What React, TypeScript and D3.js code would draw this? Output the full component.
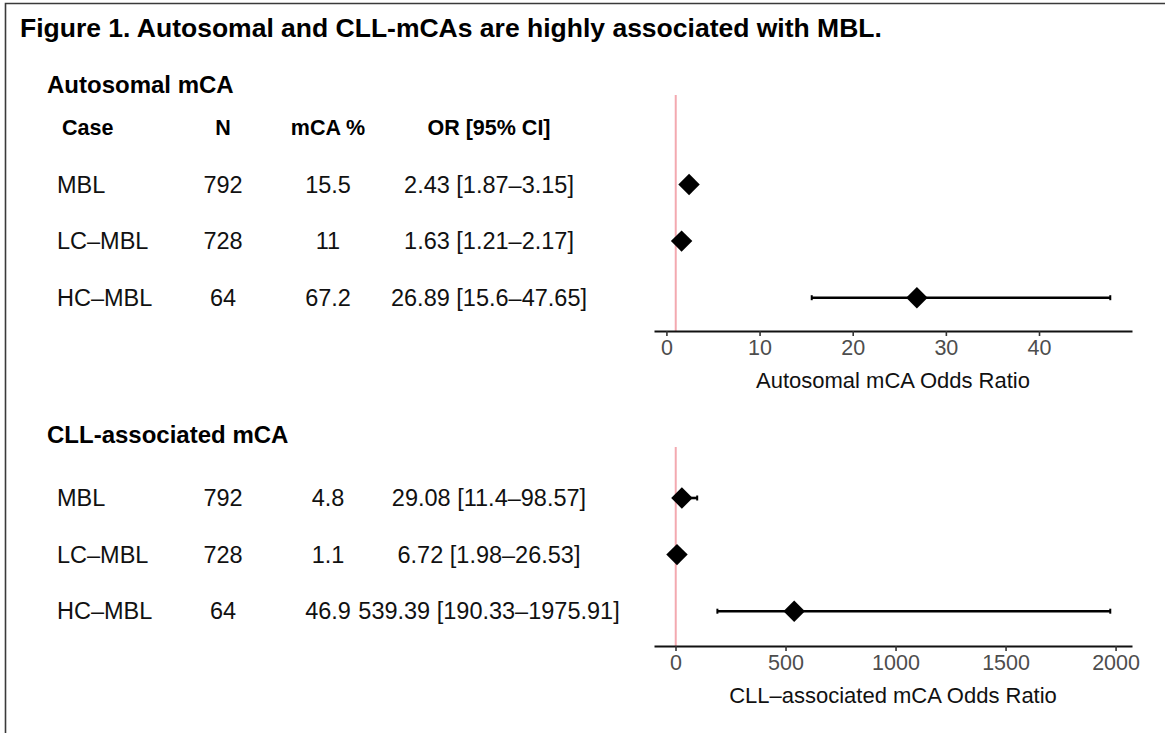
import React, { useRef, useEffect } from "react";
import * as d3 from "d3";

// table / forest data
const cases = ["MBL", "LC\u2013MBL", "HC\u2013MBL"];

const autoN = [792, 728, 64];
const autoPct = ["15.5", "11", "67.2"];
const autoOR = [2.43, 1.63, 26.89];
const autoLo = [1.87, 1.21, 15.6];
const autoHi = [3.15, 2.17, 47.65];
const autoTicks = [0, 10, 20, 30, 40];

const cllN = [792, 728, 64];
const cllPct = ["4.8", "1.1", "46.9"];
const cllOR = [29.08, 6.72, 539.39];
const cllLo = [11.4, 1.98, 190.33];
const cllHi = [98.57, 26.53, 1975.91];
const cllTicks = [0, 500, 1000, 1500, 2000];

const headers = ["Case", "N", "mCA %", "OR [95% CI]"];

const FONT = "'Liberation Sans', Arial, Helvetica, sans-serif";

export default function App() {
	const ref = useRef<SVGSVGElement>(null);

	const layout = {
		width: 1165,
		height: 733,
		plotLeft: 654,
		plotRight: 1132,
		colCase: 57,
		colN: 223,
		colPct: 328,
		colOR: 489,
		rowStep: 56.6
	};

	const panels = [
		{
			title: "Autosomal mCA",
			titleY: 85,
			header: true,
			firstRow: 184.5,
			refTop: 95,
			axisY: 331,
			n: autoN, pct: autoPct, or: autoOR, lo: autoLo, hi: autoHi,
			ticks: autoTicks,
			axisTitle: "Autosomal mCA Odds Ratio"
		},
		{
			title: "CLL-associated mCA",
			titleY: 435,
			header: false,
			firstRow: 498,
			refTop: 447,
			axisY: 646,
			n: cllN, pct: cllPct, or: cllOR, lo: cllLo, hi: cllHi,
			ticks: cllTicks,
			axisTitle: "CLL\u2013associated mCA Odds Ratio"
		}
	];

	useEffect(() => {
		const svg = d3.select(ref.current);
		svg.selectAll("*").remove();

		svg.append("rect")
			.attr("width", layout.width)
			.attr("height", layout.height)
			.attr("fill", "white");

		// frame (only top and left edges show in the crop)
		svg.append("path")
			.attr("d", `M5.5,${layout.height} V3.5 H${layout.width}`)
			.attr("fill", "none")
			.attr("stroke", "#3a3a3a")
			.attr("stroke-width", 1.6);

		svg.append("text")
			.attr("x", 20)
			.attr("y", 37)
			.attr("font-family", FONT)
			.attr("font-weight", "bold")
			.attr("font-size", 26.5)
			.text("Figure 1. Autosomal and CLL-mCAs are highly associated with MBL.");

		panels.forEach(p => {
			const g = svg.append("g");

			g.append("text")
				.attr("x", 47)
				.attr("y", p.titleY)
				.attr("dy", "0.35em")
				.attr("font-family", FONT)
				.attr("font-weight", "bold")
				.attr("font-size", 24)
				.text(p.title);

			const rowY = (i: number) => p.firstRow + i * layout.rowStep;
			const cols = [layout.colCase, layout.colN, layout.colPct, layout.colOR];
			const anchors = ["start", "middle", "middle", "middle"];

			if (p.header) {
				headers.forEach((h, j) => {
					g.append("text")
						.attr("x", cols[j] + (j === 0 ? 5 : 0))
						.attr("y", rowY(-1))
						.attr("dy", "0.35em")
						.attr("text-anchor", anchors[j])
						.attr("font-family", FONT)
						.attr("font-weight", "bold")
						.attr("font-size", 21.5)
						.text(h);
				});
			}

			cases.forEach((c, i) => {
				const cells = [c, String(p.n[i]), p.pct[i], `${p.or[i]} [${p.lo[i]}\u2013${p.hi[i]}]`];
				cells.forEach((t, j) => {
					g.append("text")
						.attr("x", cols[j])
						.attr("y", rowY(i))
						.attr("dy", "0.35em")
						.attr("text-anchor", anchors[j])
						.attr("font-family", FONT)
						.attr("font-size", 23.5)
						.attr("fill", "#111")
						.text(t);
				});
			});

			// x scale: data range (incl. reference line at 1) padded 5% each side
			const lo = Math.min(1, d3.min(p.lo) as number);
			const hi = d3.max(p.hi) as number;
			const pad = (hi - lo) * 0.05;
			const x = d3.scaleLinear()
				.domain([lo - pad, hi + pad])
				.range([layout.plotLeft, layout.plotRight]);

			g.append("line")
				.attr("x1", x(1)).attr("x2", x(1))
				.attr("y1", p.refTop).attr("y2", p.axisY)
				.attr("stroke", "#f3a9b0")
				.attr("stroke-width", 2);

			const axis = g.append("g")
				.attr("transform", `translate(0, ${p.axisY})`)
				.call(d3.axisBottom(x)
					.tickValues(p.ticks)
					.tickFormat(d => String(d))
					.tickSize(5)
					.tickSizeOuter(0)
					.tickPadding(4));

			axis.select(".domain")
				.attr("stroke", "#111")
				.attr("stroke-width", 2.2);
			axis.selectAll(".tick line")
				.attr("stroke", "#333")
				.attr("stroke-width", 1.6);
			axis.selectAll(".tick text")
				.attr("fill", "#4d4d4d")
				.attr("font-family", FONT)
				.attr("font-size", 21.5);

			g.append("text")
				.attr("x", (layout.plotLeft + layout.plotRight) / 2)
				.attr("y", p.axisY + 49)
				.attr("dy", "0.35em")
				.attr("text-anchor", "middle")
				.attr("font-family", FONT)
				.attr("font-size", 22)
				.attr("fill", "#111")
				.text(p.axisTitle);

			// confidence intervals
			cases.forEach((c, i) => {
				const y = rowY(i);
				g.append("line")
					.attr("x1", x(p.lo[i])).attr("x2", x(p.hi[i]))
					.attr("y1", y).attr("y2", y)
					.attr("stroke", "black")
					.attr("stroke-width", 2.6);
				[p.lo[i], p.hi[i]].forEach(v => {
					g.append("line")
						.attr("x1", x(v)).attr("x2", x(v))
						.attr("y1", y - 2.5).attr("y2", y + 2.5)
						.attr("stroke", "black")
						.attr("stroke-width", 2);
				});
			});

			const diamond = d3.symbol().type(d3.symbolSquare).size(230);
			g.selectAll(".pt")
				.data(p.or)
				.join("path")
				.attr("class", "pt")
				.attr("d", diamond)
				.attr("transform", (d, i) => `translate(${x(d)}, ${rowY(i)}) rotate(45)`)
				.attr("fill", "black");
		});
	}, []);

	return (
		<div>
			<svg
				ref={ref}
				width={layout.width}
				height={layout.height}
				style={{ position: "absolute", left: 0, top: 0, display: "block" }}
			/>
		</div>
	);
}
